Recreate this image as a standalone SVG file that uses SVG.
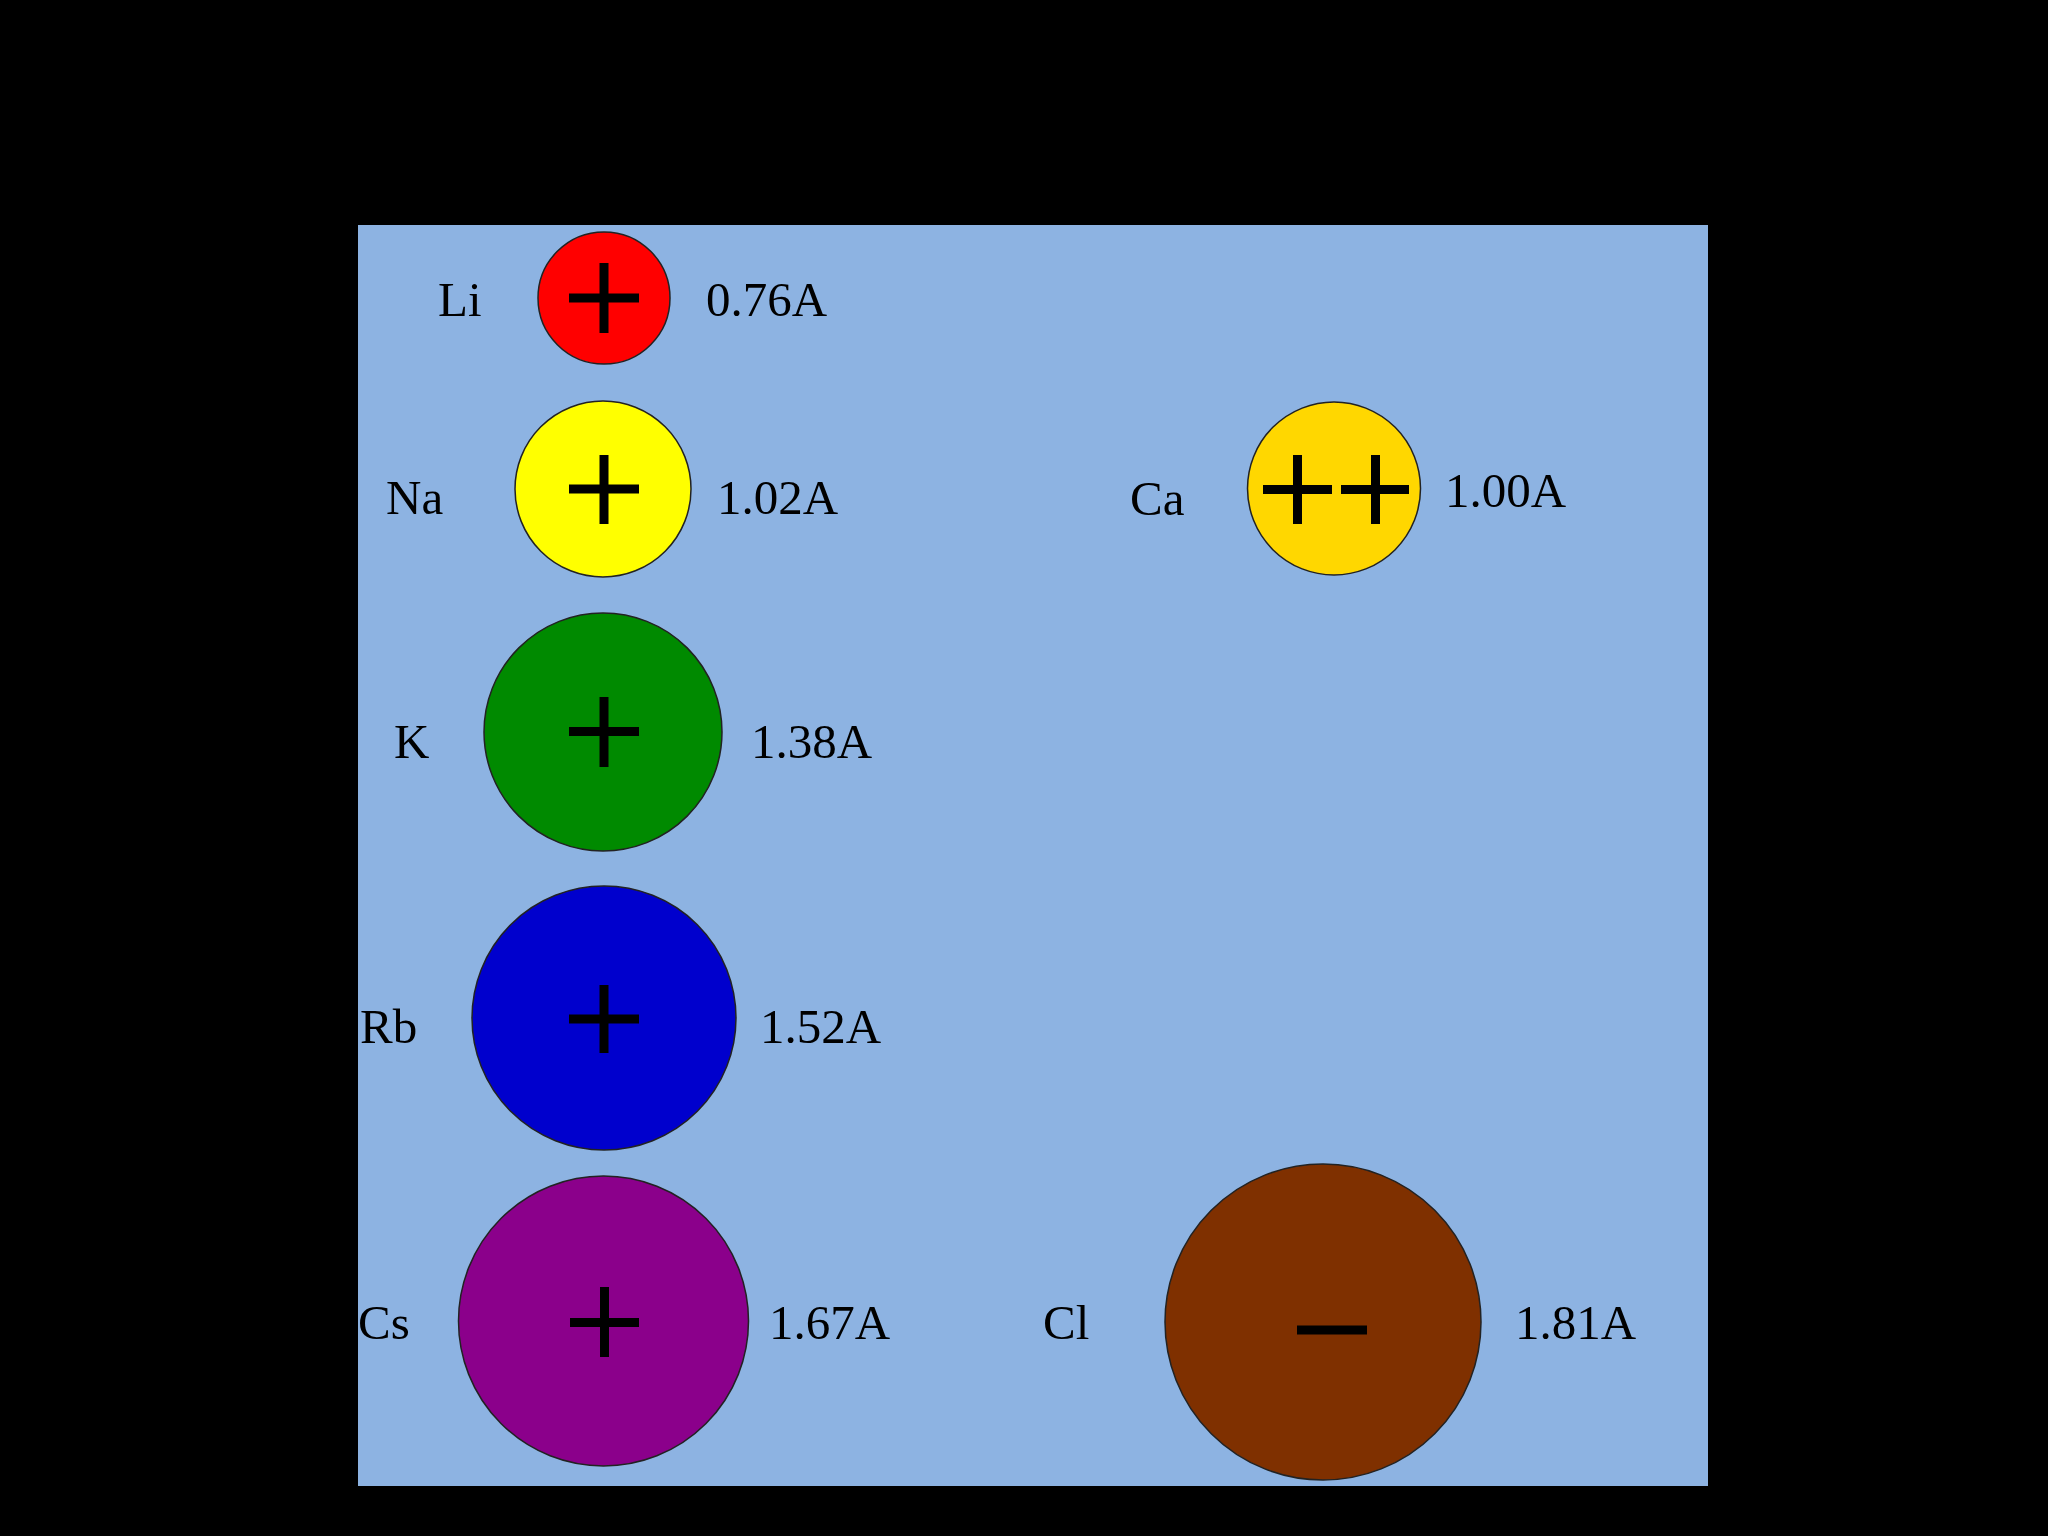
<svg xmlns="http://www.w3.org/2000/svg" width="2048" height="1536" viewBox="0 0 2048 1536">
<style>
.ion{stroke:#222;stroke-width:1.5}
.sign{stroke:#000;stroke-width:9;fill:none}
.lbl{font-family:"Liberation Serif","Times New Roman",serif;font-size:49px;fill:#000}
</style>
<rect x="0" y="0" width="2048" height="1536" fill="#000"/>
<rect x="358" y="225" width="1350" height="1261" fill="#8db3e2"/>
<g id="connectors"/>
<g id="Li">
<circle class="ion" cx="604" cy="298" r="66" fill="#ff0000"/>
<path class="sign" d="M569 298H639M604 263V333"/>
<text class="lbl" x="438" y="316">Li</text>
<text class="lbl" x="706" y="316">0.76A</text>
</g>
<g id="Na">
<circle class="ion" cx="603" cy="489" r="88" fill="#ffff00"/>
<path class="sign" d="M569 489H639M604 455V524"/>
<text class="lbl" x="386" y="514">Na</text>
<text class="lbl" x="717" y="514">1.02A</text>
</g>
<g id="K">
<circle class="ion" cx="603" cy="732" r="119" fill="#008a00"/>
<path class="sign" d="M569 731.5H639M604 697V767"/>
<text class="lbl" x="394" y="758">K</text>
<text class="lbl" x="751" y="758">1.38A</text>
</g>
<g id="Rb">
<circle class="ion" cx="604" cy="1018" r="132" fill="#0000cd"/>
<path class="sign" d="M569 1019H639M604 985V1053"/>
<text class="lbl" x="360" y="1043">Rb</text>
<text class="lbl" x="760" y="1043">1.52A</text>
</g>
<g id="Cs">
<circle class="ion" cx="603.5" cy="1321" r="145" fill="#8b008b"/>
<path class="sign" d="M570 1322.5H639M604.5 1287V1357"/>
<text class="lbl" x="358" y="1339">Cs</text>
<text class="lbl" x="769" y="1339">1.67A</text>
</g>
<g id="Ca">
<circle class="ion" cx="1334" cy="488.5" r="86.5" fill="#ffd700"/>
<path class="sign" d="M1263 489.5H1332M1297.5 455V524M1341 489.5H1409M1375.5 455V524"/>
<text class="lbl" x="1130" y="515">Ca</text>
<text class="lbl" x="1445" y="507">1.00A</text>
</g>
<g id="Cl">
<circle class="ion" cx="1323" cy="1322" r="158" fill="#7f3000"/>
<path class="sign" d="M1297 1330H1367"/>
<text class="lbl" x="1043" y="1339">Cl</text>
<text class="lbl" x="1515" y="1339">1.81A</text>
</g>
</svg>
